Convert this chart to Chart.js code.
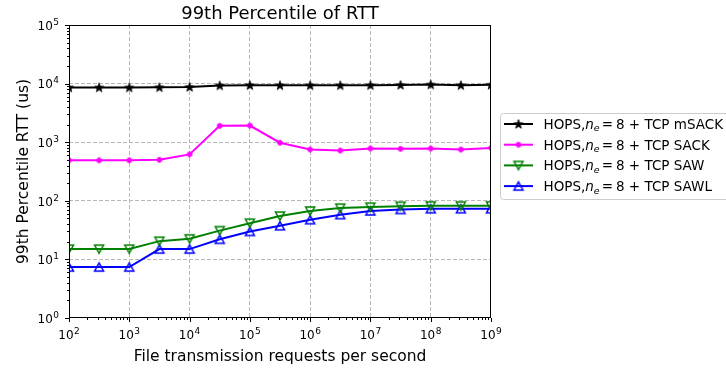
<!DOCTYPE html>
<html>
<head>
<meta charset="utf-8">
<script src="https://cdn.jsdelivr.net/npm/chart.js@4/dist/chart.umd.min.js"></script>
<style>
  html, body { margin: 0; padding: 0; background: #fff; }
  canvas { display: block; }
</style>
</head>
<body>
<canvas id="rtt" width="726" height="371"></canvas>
<script>
// File transmission request rates (half-decade steps)
const requestRates = [1e2, 3.16e2, 1e3, 3.16e3, 1e4, 3.16e4, 1e5, 3.16e5, 1e6, 3.16e6, 1e7, 3.16e7, 1e8, 3.16e8, 1e9];

// 99th percentile RTT in microseconds, one array per transport variant
const rttMSACK = [8600, 8600, 8600, 8650, 8750, 9300, 9400, 9350, 9350, 9350, 9400, 9500, 9650, 9400, 9550];
const rttSACK  = [490, 490, 490, 500, 620, 1900, 1920, 980, 750, 720, 780, 770, 780, 750, 800];
const rttSAW   = [15, 15, 15, 20.5, 22.5, 31, 41.5, 55, 67, 75, 78, 81, 82, 82, 82];
const rttSAWL  = [7.4, 7.4, 7.4, 15, 15, 22, 30, 37.5, 47.5, 58, 67, 71, 73, 73, 73];

const seriesLabels = ['TCP mSACK', 'TCP SACK', 'TCP SAW', 'TCP SAWL'];
const seriesColors = ['#000000', '#ff00ff', '#008000', '#0000ff'];

// Axis extents (decade exponents)
const xDecades = [2, 9];
const yDecades = [0, 5];

const FONT = "'DejaVu Sans', 'Liberation Sans', sans-serif";

function isDecade(v) {
  const l = Math.log10(v);
  return Math.abs(l - Math.round(l)) < 1e-9;
}
function logTicks(range) {
  const out = [];
  for (let e = range[0]; e <= range[1]; e++) {
    const base = Math.pow(10, e);
    for (let m = 1; m <= 9; m++) {
      if (e === range[1] && m > 1) break;
      out.push({ value: m * base, major: m === 1 });
    }
  }
  return out;
}

// Marker sprites
function makeMarker(kind, color) {
  const s = 14, m = s / 2;
  const c = document.createElement('canvas');
  c.width = s; c.height = s;
  const g = c.getContext('2d');
  g.strokeStyle = color;
  g.fillStyle = color;
  g.beginPath();
  if (kind === 'star') {
    const ro = 4.8, ri = 1.95;
    for (let i = 0; i < 10; i++) {
      const r = i % 2 === 0 ? ro : ri;
      const a = -Math.PI / 2 + i * Math.PI / 5;
      const px = m + r * Math.cos(a), py = m + 0.4 + r * Math.sin(a);
      if (i === 0) g.moveTo(px, py); else g.lineTo(px, py);
    }
    g.closePath();
    g.fill();
    g.lineWidth = 0.8;
    g.stroke();
  } else if (kind === 'circle') {
    g.arc(m, m, 2.4, 0, Math.PI * 2);
    g.fill();
    g.lineWidth = 1;
    g.stroke();
  } else if (kind === 'triUp') {
    g.moveTo(m, m - 4.2);
    g.lineTo(m + 4.5, m + 3.9);
    g.lineTo(m - 4.5, m + 3.9);
    g.closePath();
    g.lineWidth = 1.5;
    g.stroke();
  } else if (kind === 'triDown') {
    g.moveTo(m, m + 4.2);
    g.lineTo(m + 4.5, m - 3.9);
    g.lineTo(m - 4.5, m - 3.9);
    g.closePath();
    g.lineWidth = 1.5;
    g.stroke();
  }
  return c;
}

const markers = [
  makeMarker('star', seriesColors[0]),
  makeMarker('circle', seriesColors[1]),
  makeMarker('triDown', seriesColors[2]),
  makeMarker('triUp', seriesColors[3])
];

function toPoints(ys) {
  return requestRates.map((x, i) => ({ x: x, y: ys[i] }));
}

const seriesValues = [rttMSACK, rttSACK, rttSAW, rttSAWL];
const datasets = seriesValues.map((ys, i) => ({
  label: 'HOPS,ne = 8 + ' + seriesLabels[i],
  data: toPoints(ys),
  borderColor: seriesColors[i],
  backgroundColor: seriesColors[i],
  borderWidth: 2,
  pointStyle: markers[i],
  pointRadius: 5,
  pointHoverRadius: 5,
  tension: 0,
  fill: false
}));

const GRID = '#b8b8b8';

// "10" with a raised exponent; align: 'center' or 'right'
function drawPowerLabel(ctx, exp, x, baseline, align) {
  const mant = '10', ex = String(exp);
  ctx.font = '12px ' + FONT;
  const wm = ctx.measureText(mant).width;
  ctx.font = '9px ' + FONT;
  const we = ctx.measureText(ex).width;
  const total = wm + 0.5 + we;
  const x0 = align === 'center' ? x - total / 2 : x - total;
  ctx.textAlign = 'left';
  ctx.textBaseline = 'alphabetic';
  ctx.font = '12px ' + FONT;
  ctx.fillText(mant, x0, baseline);
  ctx.font = '9px ' + FONT;
  ctx.fillText(ex, x0 + wm + 0.5, baseline - 5);
}

// Frame, tick marks, tick labels, title and legend
const decorations = {
  id: 'decorations',
  afterDatasetsDraw(chart) {
    const ctx = chart.ctx;
    const a = chart.chartArea;
    const xs = chart.scales.x, ys = chart.scales.y;
    ctx.save();
    // axes frame
    ctx.strokeStyle = '#000';
    ctx.lineWidth = 1;
    ctx.strokeRect(Math.round(a.left) + 0.5, Math.round(a.top) + 0.5,
                   Math.round(a.right - a.left) - 1, Math.round(a.bottom - a.top) - 1);
    // tick marks (outward)
    ctx.beginPath();
    xs.ticks.forEach(t => {
      const px = Math.round(xs.getPixelForValue(t.value)) + 0.5;
      const len = isDecade(t.value) ? 4 : 2;
      ctx.moveTo(px, a.bottom);
      ctx.lineTo(px, a.bottom + len);
    });
    ys.ticks.forEach(t => {
      const py = Math.round(ys.getPixelForValue(t.value)) + 0.5;
      const len = isDecade(t.value) ? 4 : 2;
      ctx.moveTo(a.left, py);
      ctx.lineTo(a.left - len, py);
    });
    ctx.stroke();

    // tick labels
    ctx.fillStyle = '#000';
    xs.ticks.forEach(t => {
      if (!isDecade(t.value)) return;
      const px = xs.getPixelForValue(t.value);
      drawPowerLabel(ctx, Math.round(Math.log10(t.value)), px, a.bottom + 20.5, 'center');
    });
    ys.ticks.forEach(t => {
      if (!isDecade(t.value)) return;
      const py = ys.getPixelForValue(t.value);
      drawPowerLabel(ctx, Math.round(Math.log10(t.value)), a.left - 10, py + 4.8, 'right');
    });

    // title
    ctx.font = '18px ' + FONT;
    ctx.textAlign = 'center';
    ctx.textBaseline = 'alphabetic';
    ctx.fillText('99th Percentile of RTT', (a.left + a.right) / 2, 18.5);

    // legend
    const lx = 500.5, ly = 113.5, lw = 240, lh = 86, r = 3;
    ctx.beginPath();
    ctx.moveTo(lx + r, ly);
    ctx.lineTo(lx + lw - r, ly);
    ctx.arcTo(lx + lw, ly, lx + lw, ly + r, r);
    ctx.lineTo(lx + lw, ly + lh - r);
    ctx.arcTo(lx + lw, ly + lh, lx + lw - r, ly + lh, r);
    ctx.lineTo(lx + r, ly + lh);
    ctx.arcTo(lx, ly + lh, lx, ly + lh - r, r);
    ctx.lineTo(lx, ly + r);
    ctx.arcTo(lx, ly, lx + r, ly, r);
    ctx.closePath();
    ctx.fillStyle = 'rgba(255,255,255,0.8)';
    ctx.fill();
    ctx.strokeStyle = '#cccccc';
    ctx.lineWidth = 1;
    ctx.stroke();

    const rowY = [124, 144.7, 165.4, 186.1];
    chart.data.datasets.forEach((ds, i) => {
      const cy = rowY[i];
      ctx.strokeStyle = ds.borderColor;
      ctx.lineWidth = 2;
      ctx.beginPath();
      ctx.moveTo(504, cy);
      ctx.lineTo(533, cy);
      ctx.stroke();
      const mk = ds.pointStyle;
      ctx.drawImage(mk, 518.5 - mk.width / 2, cy - mk.height / 2);

      let tx = 543.5;
      const base = cy + 4.9;
      ctx.fillStyle = '#000';
      ctx.textAlign = 'left';
      ctx.textBaseline = 'alphabetic';
      ctx.font = '13.5px ' + FONT;
      ctx.fillText('HOPS,', tx, base);
      tx += ctx.measureText('HOPS,').width;
      ctx.font = 'italic 13.5px ' + FONT;
      ctx.fillText('n', tx, base);
      tx += ctx.measureText('n').width;
      ctx.font = 'italic 9.5px ' + FONT;
      ctx.fillText('e', tx, base + 2.5);
      tx += ctx.measureText('e').width + 2;
      ctx.font = '13.5px ' + FONT;
      ctx.fillText('=', tx, base);
      tx += ctx.measureText('=').width + 3;
      ctx.fillText('8 + ' + seriesLabels[i], tx, base);
    });
    ctx.restore();
  }
};

new Chart(document.getElementById('rtt'), {
  type: 'line',
  data: { datasets: datasets },
  options: {
    responsive: false,
    animation: false,
    devicePixelRatio: 1,
    layout: { padding: { top: 25, right: 235, left: 0, bottom: 0 } },
    plugins: {
      legend: { display: false },
      title: { display: false },
      tooltip: { enabled: false }
    },
    scales: {
      x: {
        type: 'logarithmic',
        position: 'bottom',
        min: Math.pow(10, xDecades[0]),
        max: Math.pow(10, xDecades[1]),
        afterBuildTicks: s => { s.ticks = logTicks(xDecades); },
        afterFit: s => { s.height = 53; },
        grid: {
          drawTicks: false,
          lineWidth: 1,
          color: c => (c.tick && isDecade(c.tick.value) && c.tick.value > Math.pow(10, xDecades[0]) && c.tick.value < Math.pow(10, xDecades[1])) ? GRID : 'rgba(0,0,0,0)'
        },
        border: { display: false, dash: [4, 2] },
        ticks: { display: false, autoSkip: false },
        title: {
          display: true,
          text: 'File transmission requests per second',
          color: '#000',
          font: { family: FONT, size: 15.5 },
          padding: { top: 0, bottom: 5 }
        }
      },
      y: {
        type: 'logarithmic',
        position: 'left',
        min: Math.pow(10, yDecades[0]),
        max: Math.pow(10, yDecades[1]),
        afterBuildTicks: s => { s.ticks = logTicks(yDecades); },
        afterFit: s => { s.width = 69; },
        grid: {
          drawTicks: false,
          lineWidth: 1,
          color: c => (c.tick && isDecade(c.tick.value) && c.tick.value > Math.pow(10, yDecades[0]) && c.tick.value < Math.pow(10, yDecades[1])) ? GRID : 'rgba(0,0,0,0)'
        },
        border: { display: false, dash: [4, 2] },
        ticks: { display: false, autoSkip: false },
        title: {
          display: true,
          text: '99th Percentile RTT (us)',
          color: '#000',
          font: { family: FONT, size: 15.5 },
          padding: { top: 15, bottom: 0 }
        }
      }
    }
  },
  plugins: [decorations]
});
</script>
</body>
</html>
